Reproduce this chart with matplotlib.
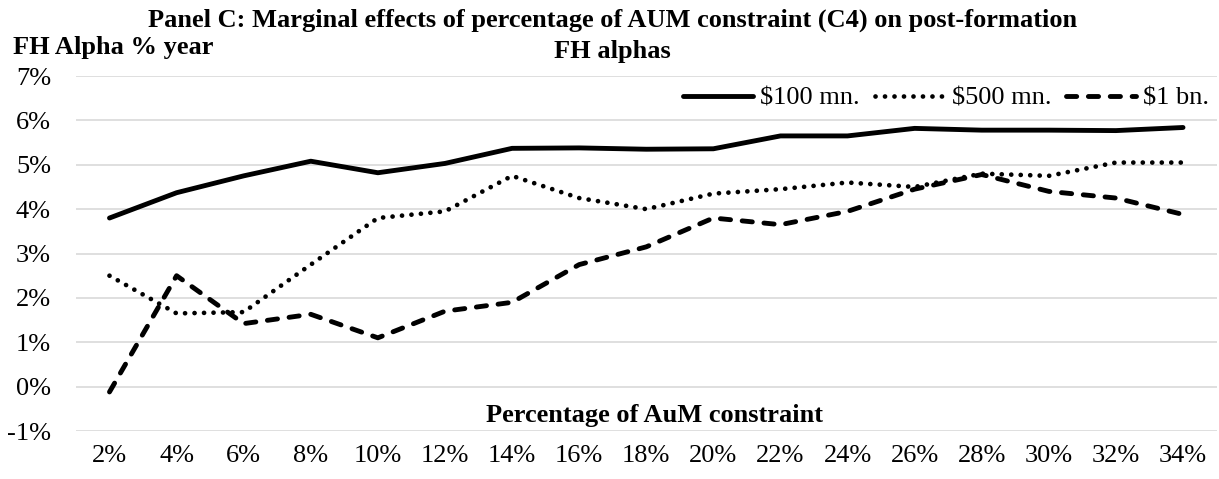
import matplotlib
matplotlib.use("Agg")
import matplotlib.pyplot as plt
import numpy as np

# == Dados ==
categorias = ["2%", "4%", "6%", "8%", "10%", "12%", "14%", "16%", "18%",
              "20%", "22%", "24%", "26%", "28%", "30%", "32%", "34%"]

aum_100mn = [3.80, 4.37, 4.75, 5.08, 4.82, 5.03, 5.37, 5.38, 5.35,
             5.36, 5.65, 5.65, 5.82, 5.78, 5.78, 5.77, 5.84]
aum_500mn = [2.50, 1.65, 1.68, 2.75, 3.80, 3.95, 4.75, 4.25, 4.00,
             4.35, 4.45, 4.60, 4.50, 4.80, 4.75, 5.05, 5.05]
aum_1bn = [-0.12, 2.50, 1.42, 1.63, 1.10, 1.70, 1.90, 2.75, 3.15,
           3.80, 3.65, 3.95, 4.45, 4.78, 4.40, 4.25, 3.88]

yticks = [-1, 0, 1, 2, 3, 4, 5, 6, 7]

plt.rcParams['font.family'] = ['Liberation Serif', 'DejaVu Serif']
fs = 19

fig = plt.figure(figsize=(12.19, 4.79), dpi=100)
ax = fig.add_axes([0.0623, 0.1002, 0.9357, 0.7411])

x = np.arange(len(categorias))

ax.plot(x, aum_100mn, color='black', lw=3.5, solid_capstyle='round',
        solid_joinstyle='round', label='$100 mn.')
ax.plot(x, aum_500mn, color='black', lw=3.4, linestyle=(0, (0.01, 2.0)),
        dash_capstyle='round', label='$500 mn.')
ax.plot(x, aum_1bn, color='black', lw=3.5, linestyle=(0, (2.1, 2.4)),
        dash_capstyle='round', label='$1 bn.')

ax.set_xlim(-0.5, len(categorias) - 0.5)
ax.set_ylim(-1, 7)
ax.set_xticks(x)
ax.set_xticklabels(categorias, fontsize=fs)
ax.set_yticks(yticks)
ax.set_yticklabels([f"{v}%" for v in yticks], fontsize=fs)
ax.tick_params(axis='both', length=0)
ax.tick_params(axis='y', pad=18)
ax.tick_params(axis='x', pad=10)
ax.grid(axis='y', color='#d9d9d9', lw=1.2)
ax.set_axisbelow(True)
for s in ax.spines.values():
    s.set_visible(False)

# titulo em duas linhas
fig.text(0.5025, 0.9436,
         "Panel C: Marginal effects of percentage of AUM constraint (C4) on post-formation",
         ha='center', va='baseline', fontsize=fs, fontweight='bold')
fig.text(0.5025, 0.8789, "FH alphas", ha='center', va='baseline',
         fontsize=fs, fontweight='bold')
fig.text(0.0107, 0.8873, "FH Alpha % year", ha='left', va='baseline',
         fontsize=fs, fontweight='bold')
fig.text(0.537, 0.119, "Percentage of AuM constraint", ha='center', va='baseline',
         fontsize=fs, fontweight='bold')

fig.legend(loc='center right', bbox_to_anchor=(1.003, 0.7954), ncol=3,
           frameon=False, fontsize=fs, handlelength=2.65, handletextpad=0.27,
           columnspacing=0.57, borderaxespad=0.1)

fig.savefig("out.png", dpi=100)
